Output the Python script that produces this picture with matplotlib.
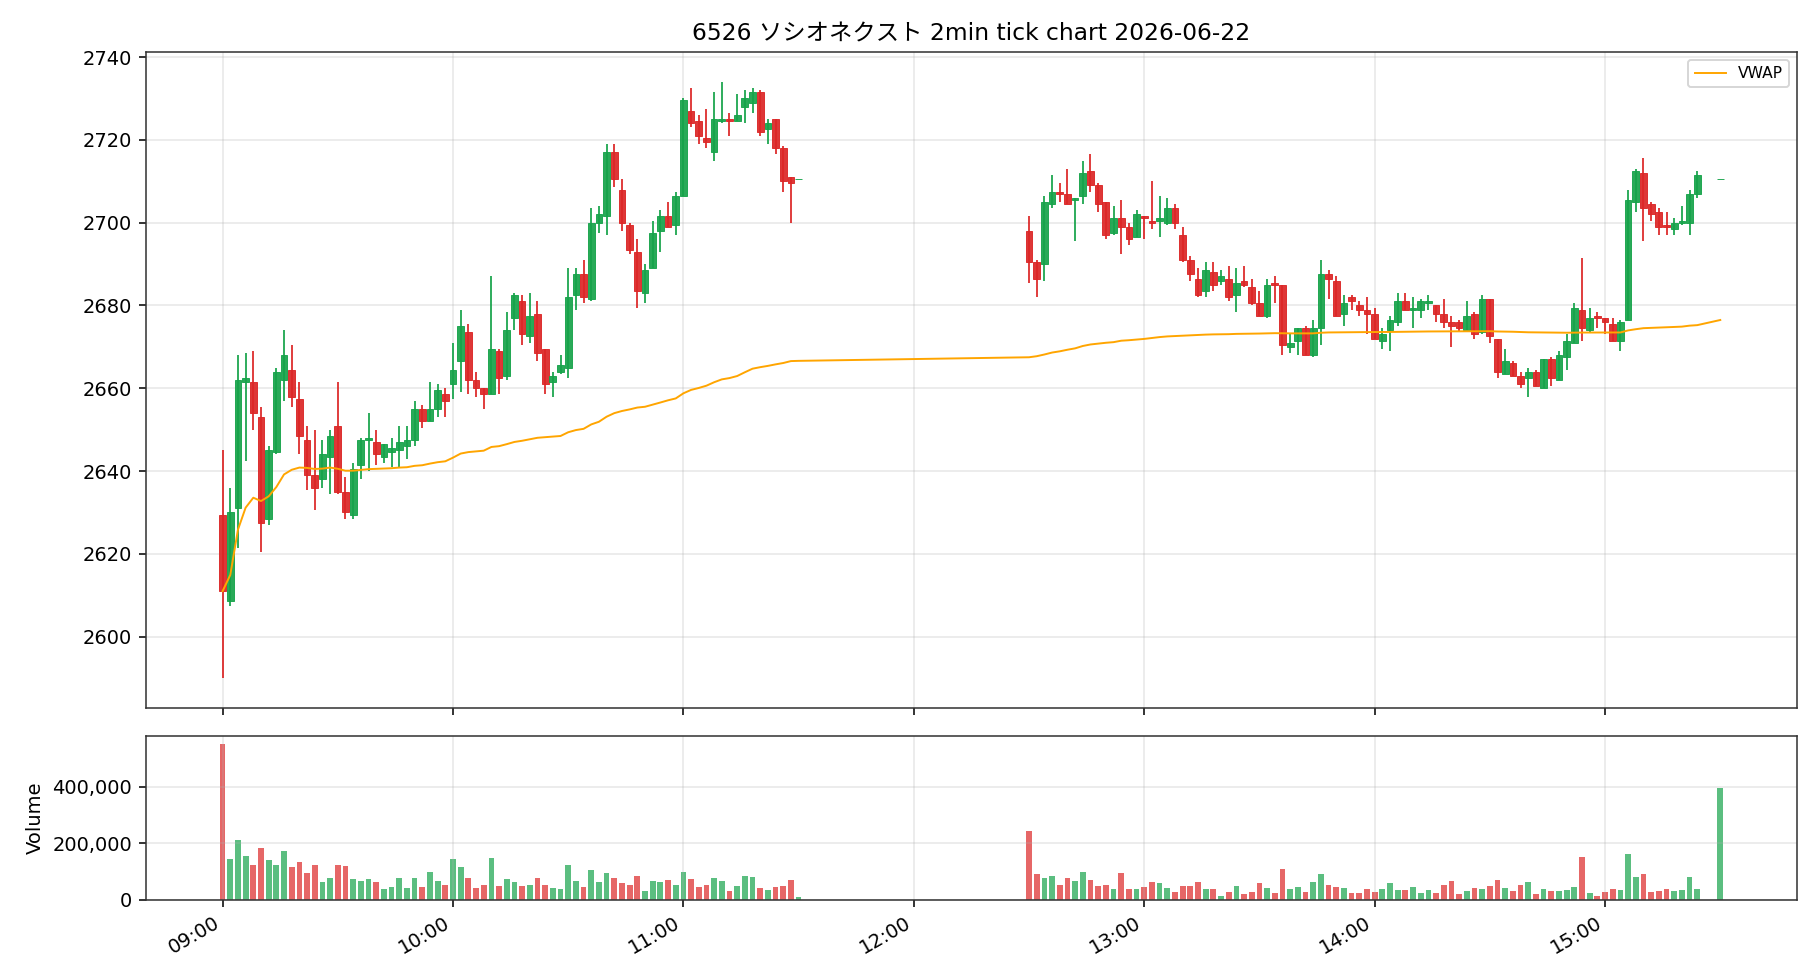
import datetime as dt
import numpy as np
import matplotlib
matplotlib.use("Agg")
import matplotlib.pyplot as plt
import matplotlib.dates as mdates
from matplotlib.ticker import FuncFormatter

plt.rcParams['font.family'] = ['DejaVu Sans', 'Noto Sans CJK JP']
plt.rcParams['axes.edgecolor'] = '#333333'

TITLE = "6526 ソシオネクスト 2min tick chart 2026-06-22"
DAY = dt.datetime(2026, 6, 22)

# session bar start times (2-minute bars, closing auction bar at 11:30 / 15:30)
am_start, am_bars = "09:00", 76
pm_start, pm_bars = "12:30", 88
close_auction = "15:30"

# morning session 09:00 - 11:30
am_open = [2629.5, 2608.5, 2631, 2661.5, 2661.5, 2653, 2628.5, 2644.5, 2662, 2664.5,
           2657.5, 2647.5, 2639, 2638, 2643.5, 2651, 2635, 2629.5, 2641.5, 2647.5,
           2647, 2643.5, 2644.5, 2645, 2646, 2647.5, 2655, 2652, 2655, 2658.5,
           2661, 2666.5, 2673.5, 2662, 2660, 2658.5, 2669, 2663, 2677, 2681,
           2672.5, 2678, 2669.5, 2661.5, 2664, 2665, 2682.5, 2687.5, 2681.5, 2700,
           2701.5, 2717, 2708, 2699.5, 2693, 2683, 2689, 2698, 2701.5, 2699.5,
           2706.5, 2727, 2724.5, 2720.5, 2717, 2724.5, 2725, 2724.5, 2728, 2729,
           2731.5, 2722.5, 2725, 2718, 2711, 2710.5]
am_high = [2645, 2636, 2668, 2668.5, 2669, 2655.5, 2646, 2665, 2674, 2670.5,
           2661.5, 2651, 2650, 2647.5, 2650, 2661.5, 2638.5, 2642, 2648, 2654,
           2650, 2646.5, 2648, 2651, 2651, 2657, 2656, 2661.5, 2661, 2660,
           2671, 2679, 2675.5, 2664, 2660, 2687, 2669.5, 2678.5, 2683, 2682.5,
           2683, 2681, 2669.5, 2664, 2668, 2689, 2689, 2691, 2703.5, 2704,
           2719, 2719, 2710.5, 2700, 2696, 2690, 2700.5, 2703, 2705, 2707.5,
           2730, 2732.5, 2726, 2727.5, 2731.5, 2734, 2726.5, 2731, 2732, 2732.5,
           2732, 2725, 2725, 2718.5, 2711, 2710.5]
am_low = [2590, 2607.5, 2621.5, 2642.5, 2650, 2620.5, 2627, 2644, 2657, 2655.5,
          2644, 2635.5, 2630.5, 2636, 2634.5, 2634.5, 2628.5, 2628.5, 2638, 2640,
          2641.5, 2642, 2641, 2641, 2643, 2646, 2650.5, 2652, 2653, 2653,
          2657.5, 2659, 2658.5, 2658, 2655, 2658.5, 2658.5, 2662, 2674, 2670.5,
          2671, 2666.5, 2658.5, 2658, 2663.5, 2662.5, 2679, 2680.5, 2681, 2697.5,
          2697, 2708.5, 2698, 2692.5, 2679.5, 2680.5, 2689, 2693, 2699, 2697,
          2706.5, 2723, 2719, 2718, 2715, 2724, 2721, 2724.5, 2724, 2726.5,
          2721, 2719, 2716.5, 2707.5, 2700, 2710.5]
am_close = [2611, 2630, 2662, 2662.5, 2654, 2627.5, 2645, 2664, 2668, 2658,
            2648.5, 2639, 2636, 2644, 2648.5, 2635, 2630, 2640.5, 2647.5, 2648,
            2644, 2646.5, 2645.5, 2647, 2647.5, 2655, 2652, 2655, 2659.5, 2657,
            2664.5, 2675, 2662, 2660, 2658.5, 2669.5, 2662.5, 2674, 2682.5, 2673,
            2677.5, 2668.5, 2661, 2663, 2665.5, 2682, 2687.5, 2682, 2700, 2702,
            2717, 2710.5, 2700, 2693.5, 2683.5, 2688.5, 2697.5, 2701.5, 2699, 2706.5,
            2729.5, 2724, 2721, 2719.5, 2725, 2725, 2724.5, 2726, 2730, 2731.5,
            2722, 2724, 2718, 2710, 2709.5, 2710.5]
am_volume = [554, 143, 211, 154, 125, 182, 140, 122, 172, 115,
             133, 94, 125, 62, 76, 125, 118, 72, 65, 72,
             62, 37, 44, 76, 40, 76, 44, 97, 65, 51,
             143, 115, 76, 40, 51, 147, 47, 72, 62, 47,
             51, 76, 54, 40, 37, 125, 65, 44, 104, 62,
             94, 76, 58, 51, 83, 30, 65, 62, 69, 51,
             97, 72, 44, 54, 76, 65, 30, 47, 83, 79,
             40, 33, 44, 47, 69, 8]  # thousand shares

# afternoon session 12:30 - 15:24, then closing auction 15:30
pm_open = [2698, 2690.5, 2690, 2704.5, 2707.5, 2707, 2705.5, 2706.5, 2712.5, 2709,
           2705, 2697.5, 2701, 2699, 2696.5, 2701.5, 2700.5, 2700.5, 2700, 2703.5,
           2697, 2691, 2686.5, 2683.5, 2688, 2686, 2686.5, 2682.5, 2686, 2684.5,
           2680.5, 2677.5, 2685.5, 2685, 2670, 2671.5, 2674.5, 2668, 2674.5, 2687.5,
           2686, 2678, 2682, 2680, 2679, 2678, 2671.5, 2674, 2676, 2681,
           2679, 2679, 2680.5, 2680, 2678, 2676, 2676, 2674, 2678, 2673.5,
           2681.5, 2672, 2663.5, 2666, 2663, 2662.5, 2664, 2660, 2667, 2662,
           2667.5, 2671, 2679, 2674, 2677.5, 2677, 2675.5, 2671.5, 2676.5, 2705,
           2712, 2704.5, 2702.5, 2699.5, 2698.5, 2700, 2700, 2707, 2710.5]
pm_high = [2701.5, 2691, 2706.5, 2711.5, 2709.5, 2713, 2706, 2715, 2716.5, 2709.5,
           2705, 2704, 2705.5, 2700, 2703, 2701.5, 2710, 2706.5, 2706, 2704.5,
           2699, 2692, 2689, 2690.5, 2690.5, 2688.5, 2689.5, 2689, 2689.5, 2686.5,
           2683.5, 2686.5, 2687, 2685, 2673, 2674.5, 2675, 2676.5, 2691, 2688.5,
           2687, 2682.5, 2682.5, 2681, 2682, 2679.5, 2674.5, 2677.5, 2683, 2683,
           2682, 2681.5, 2682.5, 2680, 2681.5, 2677.5, 2676.5, 2681, 2678.5, 2682.5,
           2681.5, 2672, 2669.5, 2666.5, 2664, 2665, 2664.5, 2667, 2667.5, 2669,
           2673, 2680.5, 2691.5, 2679.5, 2678.5, 2677, 2677, 2676.5, 2708, 2713,
           2715.5, 2705, 2703.5, 2702.5, 2701, 2704, 2708, 2712.5, 2710.5]
pm_low = [2685.5, 2682, 2686, 2703.5, 2705, 2704.5, 2695.5, 2704.5, 2707.5, 2702.5,
          2696, 2697, 2692.5, 2694.5, 2696.5, 2696, 2698.5, 2696.5, 2699.5, 2698.5,
          2690.5, 2686, 2682, 2682, 2683.5, 2685, 2681, 2678.5, 2684.5, 2680,
          2677.5, 2677, 2680.5, 2668, 2668.5, 2668, 2668, 2667.5, 2670.5, 2681.5,
          2677.5, 2675, 2679, 2677.5, 2673, 2672, 2669.5, 2669, 2675, 2679,
          2674.5, 2677, 2679, 2676, 2674.5, 2670, 2673.5, 2674, 2672, 2673,
          2671, 2662.5, 2663.5, 2663, 2660, 2658, 2660.5, 2660, 2660.5, 2662,
          2664.5, 2671, 2671.5, 2673.5, 2674.5, 2673, 2671.5, 2669, 2676.5, 2702.5,
          2695.5, 2700.5, 2697, 2697, 2697, 2699.5, 2697, 2706, 2710.5]
pm_close = [2690.5, 2686.5, 2705, 2707.5, 2707, 2704.5, 2706, 2712, 2709, 2704.5,
            2697, 2701, 2699, 2696, 2702, 2701, 2700, 2701, 2703.5, 2700,
            2691, 2687.5, 2682.5, 2688.5, 2685, 2687, 2682, 2685.5, 2685, 2680.5,
            2677.5, 2685, 2685, 2670.5, 2671, 2674.5, 2668, 2674.5, 2687.5, 2686.5,
            2677.5, 2680.5, 2681, 2679, 2678, 2672, 2673, 2676.5, 2681, 2679,
            2679.5, 2681, 2681, 2678, 2676, 2675, 2674.5, 2677.5, 2673, 2681.5,
            2672.5, 2664, 2666.5, 2663, 2661, 2664, 2660.5, 2667, 2662.5, 2668,
            2671.5, 2679.5, 2674.5, 2677, 2677, 2676, 2671.5, 2676, 2705.5, 2712.5,
            2703.5, 2702, 2699, 2699, 2700, 2700.5, 2707, 2711.5, 2710.5]
pm_volume = [243, 90, 76, 83, 54, 76, 65, 97, 69, 47,
             54, 37, 94, 37, 37, 44, 62, 58, 40, 26,
             47, 47, 62, 37, 37, 12, 26, 47, 19, 26,
             58, 40, 23, 108, 37, 44, 26, 62, 90, 51,
             44, 40, 23, 23, 37, 26, 37, 58, 33, 33,
             44, 23, 33, 23, 51, 65, 19, 30, 40, 37,
             47, 69, 40, 30, 54, 62, 19, 37, 30, 30,
             33, 44, 150, 23, 15, 26, 37, 33, 161, 79,
             90, 26, 30, 37, 30, 33, 79, 37, 395]

UP = '#16a34a'
DOWN = '#dc2626'


def session_times(start, n):
    t0 = dt.datetime.combine(DAY.date(), dt.datetime.strptime(start, "%H:%M").time())
    return [t0 + dt.timedelta(minutes=2 * i) for i in range(n)]


times = session_times(am_start, am_bars) + session_times(pm_start, pm_bars) \
    + session_times(close_auction, 1)
o = np.array(am_open + pm_open)
h = np.array(am_high + pm_high)
l = np.array(am_low + pm_low)
c = np.array(am_close + pm_close)
vol = np.array(am_volume + pm_volume) * 1000.0
x = mdates.date2num(times)

# VWAP on close prices, cumulative through the day
vwap = np.cumsum(c * vol) / np.cumsum(vol)

up = c >= o
colors = np.where(up, UP, DOWN)

fig, (ax1, ax2) = plt.subplots(2, 1, figsize=(13, 7), dpi=140, sharex=True,
                               gridspec_kw={"height_ratios": [4, 1]})
fig.subplots_adjust(left=0.0801, right=0.9874, top=0.9469, bottom=0.0819, hspace=0.068)

body_w = 1.75 / 1440
ax1.vlines(x, l, h, colors=colors, linewidth=0.9, zorder=2)
ax1.bar(x, np.abs(c - o), width=body_w, bottom=np.minimum(o, c), color=colors,
        edgecolor=colors, linewidth=0.5, alpha=0.92, zorder=3)
ax1.plot(x, vwap, color='orange', linewidth=1.0, label='VWAP', zorder=4)
ax1.grid(True, alpha=0.3)
ax1.legend(loc='upper right', fontsize=8)
ax1.set_title(TITLE)

ax2.bar(x, vol, width=1.5 / 1440, color=colors, alpha=0.7)
ax2.grid(True, alpha=0.3)
ax2.set_ylabel("Volume")
ax2.yaxis.set_major_formatter(FuncFormatter(lambda v, p: f"{v:,.0f}"))
ax2.set_yticks([0, 200000, 400000])

ax2.set_xlim(mdates.date2num(DAY.replace(hour=8, minute=40)),
             mdates.date2num(DAY.replace(hour=15, minute=50)))
ax2.xaxis.set_major_locator(mdates.HourLocator())
ax2.xaxis.set_major_formatter(mdates.DateFormatter('%H:%M'))
plt.setp(ax2.get_xticklabels(), rotation=30, ha='right')

fig.savefig("out.png", dpi=140)
